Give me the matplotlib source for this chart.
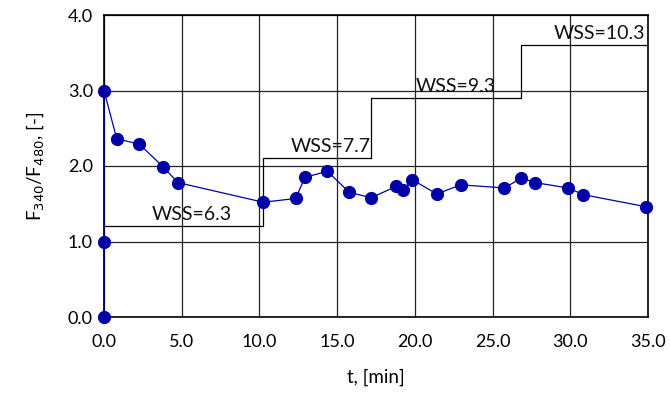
import matplotlib
matplotlib.use("Agg")
import matplotlib.pyplot as plt

t = [0.0, 0.0, 0.0, 0.82, 2.27, 3.8, 4.76, 10.25, 12.33, 12.93, 14.37, 15.79, 17.2,
     18.79, 19.26, 19.82, 21.41, 22.95, 25.76, 26.86, 27.73, 29.84, 30.85, 34.88]
ratio = [0.0, 1.0, 3.0, 2.36, 2.29, 1.99, 1.78, 1.52, 1.57, 1.85, 1.93, 1.65, 1.58,
         1.73, 1.68, 1.82, 1.63, 1.75, 1.71, 1.84, 1.78, 1.71, 1.62, 1.46]

wss_t = [0.0, 10.25, 17.2, 26.86, 34.88]
wss_level = [1.2, 2.1, 2.9, 3.6, 3.6]
wss_labels = ["WSS=6.3", "WSS=7.7", "WSS=9.3", "WSS=10.3"]
wss_label_t = [5.66, 14.6, 22.65, 31.9]

xticks = [0, 5, 10, 15, 20, 25, 30, 35]
yticks = [0, 1, 2, 3, 4]

plt.rcParams['font.family'] = ['Lato', 'DejaVu Sans']

fig = plt.figure(figsize=(6.7, 3.95), dpi=100)
ax = fig.add_axes([104/670, 1 - 317/395, 544/670, 302/395])

ax.plot(t, ratio, '-o', color='#0000A8', lw=0.9, ms=8.5, zorder=3, clip_on=False)

ax.step(wss_t, wss_level, where='post', color='black', lw=0.9, zorder=2)
for lab, lt, lv in zip(wss_labels, wss_label_t, wss_level):
    ax.text(lt, lv + 0.04, lab, ha='center', va='bottom', fontsize=14, color='#111111')

ax.set_xlim(0, 35)
ax.set_ylim(0, 4)
ax.set_xticks(xticks)
ax.set_yticks(yticks)
ax.set_xticklabels([f"{v:.1f}" for v in xticks], fontsize=13)
ax.set_yticklabels([f"{v:.1f}" for v in yticks], fontsize=13)
ax.tick_params(length=0, pad=8)
ax.tick_params(axis='x', pad=12)
ax.grid(True, color='#222222', lw=0.9)
for s in ax.spines.values():
    s.set_linewidth(1.2)
ax.set_axisbelow(True)

ax.set_xlabel("t, [min]", fontsize=13.5, labelpad=14)
ax.set_ylabel("F$_{340}$/F$_{480}$, [-]", fontsize=13.5, labelpad=16)

fig.savefig("out.png", dpi=100)
